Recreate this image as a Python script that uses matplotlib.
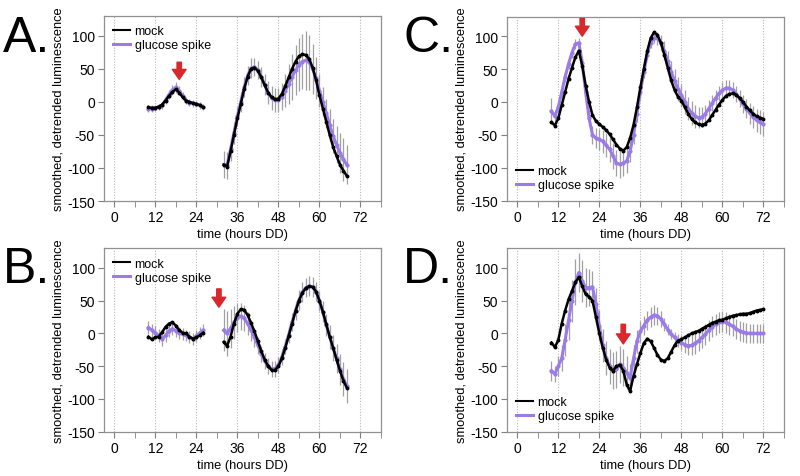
import numpy as np
import matplotlib
matplotlib.use("Agg")
from matplotlib import pyplot as plt
from matplotlib.ticker import MultipleLocator

plt.rcParams["font.family"] = ["Liberation Sans", "DejaVu Sans"]
plt.rcParams["axes.unicode_minus"] = False

# ---------------- data ----------------
# panels A and B have a gap between 26 h and 32 h
ab_t1 = list(range(10, 27))
ab_t2 = list(range(32, 69))
cd_t = list(range(10, 73))

A_mock1 = [-8, -9, -9, -7, -4, 2, 9, 15, 19, 14, 7, 2, 0, -2, -3, -5, -8]
A_gluc1 = [-10, -10, -9, -8, -5, 3, 11, 18, 22, 17, 9, 2, -1, -2, -3, -5, -8]
A_mock2 = [-95, -98, -75, -50, -25, -3, 20, 38, 50, 52, 47, 37, 25, 14, 7, 4, 5,
           12, 24, 37, 50, 61, 69, 72, 71, 65, 52, 33, 10, -10, -30, -50, -68,
           -82, -95, -104, -112]
A_gluc2 = [-95, -96, -72, -47, -22, 0, 22, 40, 51, 53, 48, 38, 26, 14, 6, 3, 3,
           8, 17, 27, 38, 48, 56, 61, 63, 60, 50, 36, 17, 0, -17, -35, -52,
           -65, -77, -87, -95]
A_err1 = [5, 5, 5, 5, 5, 6, 7, 8, 8, 7, 6, 5, 5, 5, 5, 5, 5]
A_err2 = [20, 20, 18, 16, 15, 15, 15, 15, 15, 14, 14, 15, 16, 17, 18, 18, 18,
          20, 25, 30, 35, 38, 40, 42, 45, 42, 38, 32, 25, 22, 22, 24, 26,
          28, 30, 32, 30]

B_mock1 = [-5, -9, -6, -5, 2, 10, 15, 17, 12, 5, 1, 0, -5, -8, -6, -3, 1]
B_gluc1 = [9, 5, 1, -3, -9, -3, 4, 7, 4, 1, -1, -3, -6, -8, -4, 1, 5]
B_mock2 = [-13, -19, -5, 15, 30, 37, 36, 28, 16, 3, -12, -27, -40, -50, -56,
           -56, -50, -38, -22, -4, 15, 34, 50, 62, 69, 72, 71, 64, 50, 33, 14,
           -5, -22, -40, -57, -72, -83]
B_gluc2 = [5, 0, 8, 17, 24, 26, 23, 15, 5, -6, -18, -31, -42, -50, -54, -54,
           -48, -36, -20, -2, 17, 35, 51, 63, 70, 72, 71, 64, 50, 33, 13, -5,
           -22, -38, -55, -70, -80]
B_err1 = [10, 10, 10, 10, 10, 10, 10, 10, 9, 9, 9, 9, 9, 9, 9, 9, 9]
B_err2 = [32, 35, 30, 25, 22, 20, 20, 18, 16, 14, 13, 12, 12, 12, 12, 12, 12,
          12, 12, 13, 14, 15, 15, 15, 15, 15, 15, 15, 15, 16, 17, 18, 20, 22,
          24, 26, 26]

C_mock = [-31, -36, -25, -5, 15, 35, 52, 68, 78, 55, 25, 0, -20, -29, -34, -38,
          -43, -49, -57, -65, -71, -74, -69, -55, -35, -8, 22, 50, 77, 97, 106,
          102, 90, 72, 52, 33, 18, 8, 2, -8, -18, -26, -31, -34, -35, -33, -28,
          -20, -12, -4, 3, 9, 12, 13, 11, 6, 0, -7, -13, -18, -22, -24, -26]
C_gluc = [-14, -22, -8, 15, 38, 58, 75, 88, 90, 60, 15, -25, -50, -55, -57,
          -60, -66, -72, -82, -93, -95, -93, -90, -75, -50, -18, 15, 45, 72, 90,
          97, 97, 90, 78, 62, 46, 32, 20, 10, 0, -10, -17, -22, -24, -23, -18,
          -10, -2, 6, 13, 18, 21, 21, 18, 12, 5, -3, -10, -17, -23, -28, -31, -34]
C_err = [20, 10, 8, 8, 8, 8, 8, 8, 8, 8, 10, 12, 14, 15, 16, 17, 18, 19, 20,
         20, 20, 20, 18, 16, 14, 12, 10, 8, 8, 8, 8, 10, 12, 14, 16, 17, 18, 18,
         18, 18, 18, 18, 17, 16, 15, 14, 13, 12, 12, 12, 12, 12, 12, 12, 12, 13,
         14, 15, 16, 17, 18, 18, 18]

D_mock = [-14, -21, -10, 15, 35, 52, 65, 78, 86, 72, 60, 56, 50, 25, 0, -22,
          -40, -52, -57, -50, -48, -57, -78, -88, -65, -47, -30, -15, -8, -12,
          -22, -33, -40, -42, -38, -28, -18, -11, -9, -6, -3, 0, 2, 4, 7, 10,
          13, 16, 18, 20, 21, 23, 25, 27, 28, 29, 30, 30, 31, 33, 35, 36, 37]
D_gluc = [-57, -62, -50, -38, -10, 20, 50, 78, 93, 80, 70, 70, 71, 45, 12, -18,
          -38, -50, -57, -55, -47, -52, -60, -68, -38, -12, 3, 12, 20, 25, 28,
          27, 22, 14, 6, -1, -6, -11, -14, -17, -19, -18, -15, -11, -6, -1, 5,
          10, 14, 17, 18, 17, 14, 11, 7, 4, 2, 1, 0, 0, 0, 0, 0]
D_err = [15, 12, 15, 20, 25, 30, 32, 35, 30, 32, 30, 28, 25, 24, 24, 25, 26,
         27, 28, 28, 28, 28, 25, 22, 20, 18, 16, 15, 15, 15, 15, 14, 12, 10, 8,
         8, 8, 10, 12, 13, 14, 15, 16, 16, 16, 16, 16, 16, 16, 16, 16, 16, 16,
         15, 15, 15, 15, 15, 15, 15, 15, 15, 15]

arrow_t = {"A": 19, "B": 30.6, "C": 19, "D": 31}
arrow_y = {"A": (60, 34), "B": (68, 40), "C": (127, 100), "D": (14, -16)}

MOCK = "black"
GLUC = "#9b7be8"
ERRC = "#a0a0a0"
RED = "#d8282b"


def panel(ax, segs, letter, legend_loc):
    for t, mock, gluc, err in segs:
        ax.errorbar(t, gluc, yerr=err, fmt="none", ecolor=ERRC, elinewidth=0.9,
                    zorder=1)
        ax.plot(t, mock, color=MOCK, lw=1.8, marker="o", ms=1.8, zorder=3)
        ax.plot(t, gluc, color=GLUC, lw=2.2, marker="o", ms=2.0, zorder=2)
    ax.set_xlim(-3, 78)
    ax.set_ylim(-150, 130)
    ax.xaxis.set_minor_locator(MultipleLocator(6))
    ax.set_xticks(range(0, 73, 12))
    ax.set_yticks(range(-150, 101, 50))
    ax.tick_params(axis="both", which="both", direction="out", length=4,
                   color="#808080", labelsize=10, pad=2.5)
    for s in ax.spines.values():
        s.set_color("#909090")
        s.set_linewidth(0.9)
    for x in range(0, 73, 12):
        ax.axvline(x, color="#b8b8b8", lw=0.8, ls=(0, (1, 1.5)), zorder=0)
    ax.set_xlabel("time (hours DD)", fontsize=9.3, labelpad=3)
    ax.set_ylabel("smoothed, detrended luminescence", fontsize=9.3, labelpad=2)
    ax.plot([], [], color=MOCK, lw=1.5, label="mock")
    ax.plot([], [], color=GLUC, lw=2.2, label="glucose spike")
    handles, labels = ax.get_legend_handles_labels()
    ax.legend(handles[-2:], labels[-2:], loc=legend_loc, frameon=False,
              fontsize=9, handlelength=1.3, handletextpad=0.4,
              labelspacing=0.15, borderaxespad=0.35)
    y0, y1 = arrow_y[letter]
    ax.annotate("", xy=(arrow_t[letter], y1), xytext=(arrow_t[letter], y0),
                arrowprops=dict(arrowstyle="simple,head_width=1.1,head_length=0.8,tail_width=0.35",
                                color=RED, mutation_scale=9, shrinkA=0, shrinkB=0),
                zorder=5)


fig = plt.figure(figsize=(8, 4.77), dpi=100)
W = 277 / 800
axA = fig.add_axes([104 / 800, 1 - 202 / 477, W, 185 / 477])
axB = fig.add_axes([104 / 800, 1 - 432.7 / 477, W, 183.4 / 477])
axC = fig.add_axes([507 / 800, 1 - 201.5 / 477, W, 184 / 477])
axD = fig.add_axes([507 / 800, 1 - 432.7 / 477, W, 183.4 / 477])

panel(axA, [(ab_t1, A_mock1, A_gluc1, A_err1), (ab_t2, A_mock2, A_gluc2, A_err2)],
      "A", "upper left")
panel(axB, [(ab_t1, B_mock1, B_gluc1, B_err1), (ab_t2, B_mock2, B_gluc2, B_err2)],
      "B", "upper left")
panel(axC, [(cd_t, C_mock, C_gluc, C_err)], "C", "lower left")
panel(axD, [(cd_t, D_mock, D_gluc, D_err)], "D", "lower left")

for lab, x, ybase in [("A.", 3, 52), ("B.", 3, 283), ("C.", 403, 52), ("D.", 403, 283)]:
    fig.text(x / 800, 1 - ybase / 477, lab, fontsize=36, va="baseline", ha="left")

fig.savefig("out.png", dpi=100)
